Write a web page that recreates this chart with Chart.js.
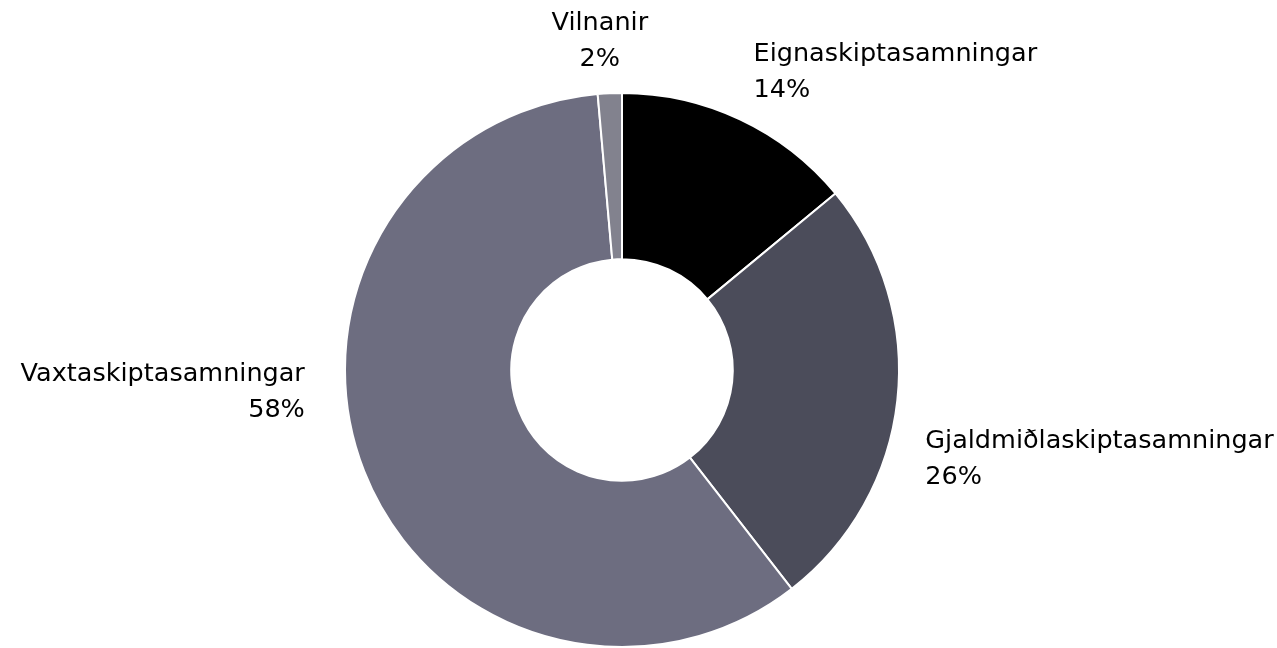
<!DOCTYPE html>
<html>
<head>
<meta charset="utf-8">
<script src="https://cdn.jsdelivr.net/npm/chart.js@4/dist/chart.umd.min.js"></script>
<style>
  html, body { margin: 0; padding: 0; background: #fff; }
  #wrap { width: 1277px; height: 648px; position: relative; }
</style>
</head>
<body>
<div id="wrap"><canvas id="chart"></canvas></div>
<script>
// Data
var categories = ['Eignaskiptasamningar', 'Gjaldmiðlaskiptasamningar', 'Vaxtaskiptasamningar', 'Vilnanir'];
var shares = [14.0, 25.5, 59.1, 1.4];
var percentLabels = ['14%', '26%', '58%', '2%'];

var colors = ['#000000', '#4b4c5a', '#6d6d80', '#82828e'];
// label anchor (fraction of outer radius, relative to centre) and alignment
var labelSpots = [
    { dx: 0.475, dy: -1.076, align: 'left' },
    { dx: 1.095, dy: 0.323, align: 'left' },
    { dx: -1.145, dy: 0.08, align: 'right' },
    { dx: -0.08, dy: -1.186, align: 'center' }
];

var labelPlugin = {
    id: 'sliceLabels',
    afterDraw: function(chart) {
        var ctx = chart.ctx;
        var arcs = chart.getDatasetMeta(0).data;
        if (!arcs.length) return;
        var cx = arcs[0].x, cy = arcs[0].y, r = arcs[0].outerRadius;
        ctx.save();
        ctx.fillStyle = '#000';
        ctx.font = '25.5px "DejaVu Sans", Verdana, sans-serif';
        ctx.textBaseline = 'middle';
        for (var i = 0; i < categories.length; i++) {
            var s = labelSpots[i];
            var x = cx + s.dx * r;
            var y = cy + s.dy * r;
            ctx.textAlign = s.align;
            ctx.fillText(categories[i], x, y - 18);
            ctx.fillText(percentLabels[i], x, y + 18);
        }
        ctx.restore();
    }
};

new Chart(document.getElementById('chart'), {
    type: 'doughnut',
    data: {
        labels: categories,
        datasets: [{
            data: shares,
            backgroundColor: colors,
            borderColor: '#ffffff',
            borderWidth: 2
        }]
    },
    options: {
        responsive: true,
        maintainAspectRatio: false,
        animation: false,
        cutout: '40%',
        layout: { padding: { top: 92, bottom: 0, left: 0, right: 33 } },
        plugins: {
            legend: { display: false },
            tooltip: { enabled: false }
        }
    },
    plugins: [labelPlugin]
});
</script>
</body>
</html>
